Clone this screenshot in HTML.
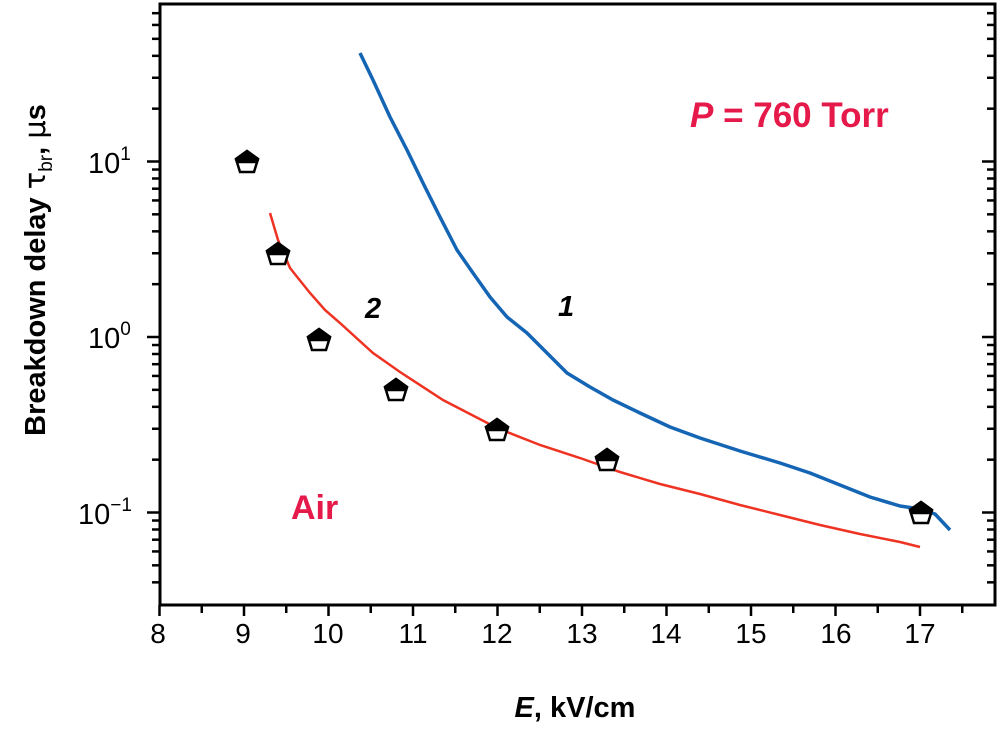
<!DOCTYPE html>
<html><head><meta charset="utf-8"><style>
body{margin:0;background:#fff}
svg{display:block}
text{font-family:"Liberation Sans",Arial,sans-serif}
</style></head><body>
<svg id="s" width="1004" height="738" viewBox="0 0 1004 738" xmlns="http://www.w3.org/2000/svg">
<rect x="0" y="0" width="1004" height="738" fill="#fff"/>
<g id="ticks" stroke="#000" stroke-width="2.5"></g>
<rect x="160" y="4" width="835" height="601" fill="none" stroke="#000" stroke-width="3"/>
<polyline fill="none" stroke="#1565b5" stroke-width="3.5" stroke-linejoin="round" points="360,53 373,80 390,117 407,150 423,183 440,217 457,250 473,273 490,297 507,317 527,333 547,353 567,373 590,387 613,400 640,413 670,427 700,438 740,451 780,463 810,473 840,485 870,497 900,506 920,509 935,514 950,530"/>
<polyline fill="none" stroke="#ee3322" stroke-width="2.5" points="270,213 278,240 290,268 310,293 325,310 340,323 373,353 400,372 443,400 470,414 497,428 540,445 580,458 620,472 660,484 700,494 740,505 780,515 820,525 860,534 900,542 920,547"/>
<g id="mk"></g>
<g font-size="28" text-anchor="middle" fill="#000">
<text x="158" y="643">8</text><text x="243" y="643">9</text><text x="328" y="643">10</text><text x="413" y="643">11</text><text x="497" y="643">12</text><text x="582" y="643">13</text><text x="666" y="643">14</text><text x="751" y="643">15</text><text x="836" y="643">16</text><text x="920" y="643">17</text>
</g>
<g font-size="29" fill="#000">
<text x="88" y="173">10<tspan dy="-13" font-size="19">1</tspan></text>
<text x="88" y="348">10<tspan dy="-13" font-size="19">0</tspan></text>
<text x="78" y="524">10<tspan dy="-13" font-size="19">−1</tspan></text>
</g>
<text x="575" y="717" font-size="29" font-weight="bold" text-anchor="middle"><tspan font-style="italic">E</tspan>, kV/cm</text>
<text transform="translate(45,270) rotate(-90)" font-size="29" font-weight="bold" text-anchor="middle">Breakdown delay <tspan font-weight="normal" font-family="DejaVu Sans">τ</tspan><tspan font-size="19" dy="7" font-weight="normal">br</tspan><tspan dy="-7">, </tspan><tspan font-weight="normal" font-family="DejaVu Sans">μ</tspan>s</text>
<text x="690" y="127" font-size="35" font-weight="bold" fill="#e5194a"><tspan font-style="italic">P</tspan> = 760 Torr</text>
<text x="291" y="519" font-size="34" font-weight="bold" fill="#e5194a">Air</text>
<text x="558" y="316" font-size="29" font-weight="bold" font-style="italic">1</text>
<text x="365" y="318" font-size="29" font-weight="bold" font-style="italic">2</text>
</svg>
<script>
var ns="http://www.w3.org/2000/svg",t=document.getElementById('ticks'),m=document.getElementById('mk');
function L(x1,y1,x2,y2){var l=document.createElementNS(ns,'line');l.setAttribute('x1',x1);l.setAttribute('y1',y1);l.setAttribute('x2',x2);l.setAttribute('y2',y2);t.appendChild(l);}
function X(v){return 159.5+(v-8)*84.5;}
for(var v=8;v<=17.8;v+=0.5){var x=X(v),maj=Math.abs(v-Math.round(v))<0.01;L(x,605,x,maj?616:613);}
function Y(v){return 337-175.5*Math.log10(v);}
for(var n=-2;n<=1;n++)for(var k=1;k<=9;k++){var val=k*Math.pow(10,n),y=Y(val);if(y<5||y>604)continue;var w=(k==1)?13:8;L(160-w,y,160,y);L(995,y,995-w,y);}
var pts=[[247,162],[278,254],[319,340],[396,390],[497,430],[607,460],[921,513]];
pts.forEach(function(p){var g=document.createElementNS(ns,'g');g.setAttribute('transform','translate('+p[0]+','+p[1]+')');
g.innerHTML='<polygon points="0,-11 11,-3 7,10 -7,10 -11,-3" fill="#fff" stroke="#000" stroke-width="2.5"/><polygon points="0,-11 11,-3 10,0 -10,0 -11,-3" fill="#000" stroke="#000" stroke-width="2.5"/>';m.appendChild(g);});
</script>
</body></html>
